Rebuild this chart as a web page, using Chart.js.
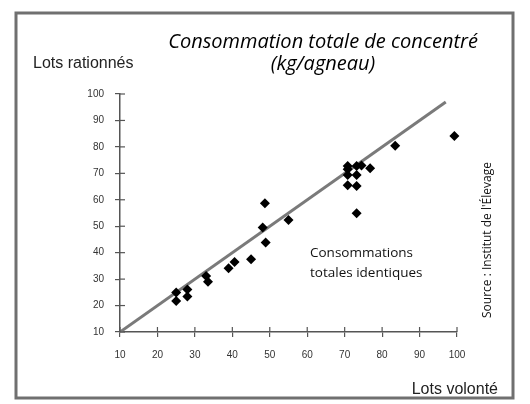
<!DOCTYPE html>
<html>
<head>
<meta charset="utf-8">
<script src="https://cdn.jsdelivr.net/npm/chart.js@4/dist/chart.umd.min.js"></script>
<style>
  body { margin: 0; background: #fff; }
  #wrap { width: 530px; height: 404px; position: relative; }
</style>
</head>
<body>
<div id="wrap"><canvas id="myChart" width="530" height="404"></canvas></div>
<script>
// values
var lotsVolonte = [25, 25, 28, 28, 33, 33.5, 39, 40.6, 45, 48.1, 48.7, 48.9, 55,
  70.8, 70.8, 70.8, 70.8, 73.2, 73.2, 73.2, 73.2, 74.5, 76.8, 83.5, 99.3];
var lotsRationnes = [24.9, 21.7, 26.1, 23.4, 31.2, 29, 34.1, 36.5, 37.5, 49.5, 58.7, 43.8, 52.4,
  72.8, 71.5, 69.4, 65.5, 72.8, 69.4, 65.2, 54.9, 73, 71.9, 80.4, 84.1];
var identiqueX = [10, 97];
var identiqueY = [10, 97];
var tickValues = [10, 20, 30, 40, 50, 60, 70, 80, 90, 100];

var points = [];
for (var i = 0; i < lotsVolonte.length; i++) {
  points.push({x: lotsVolonte[i], y: lotsRationnes[i]});
}
var diag = [];
for (var j = 0; j < identiqueX.length; j++) {
  diag.push({x: identiqueX[j], y: identiqueY[j]});
}

// frame, texts and the inner half of the crossing ticks
var decor = {
  id: 'decor',
  afterDraw: function(chart) {
    var ctx = chart.ctx;
    var xs = chart.scales.x, ys = chart.scales.y;
    ctx.save();
    ctx.strokeStyle = '#555';
    ctx.lineWidth = 1.2;
    tickValues.forEach(function(v) {
      var px = xs.getPixelForValue(v);
      ctx.beginPath(); ctx.moveTo(px, ys.bottom); ctx.lineTo(px, ys.bottom - 5); ctx.stroke();
      var py = ys.getPixelForValue(v);
      ctx.beginPath(); ctx.moveTo(xs.left, py); ctx.lineTo(xs.left + 5, py); ctx.stroke();
    });

    ctx.strokeStyle = '#707070';
    ctx.lineWidth = 3;
    ctx.strokeRect(16, 13, 497, 385);

    ctx.fillStyle = '#000';
    ctx.textAlign = 'center';
    ctx.textBaseline = 'middle';
    ctx.font = 'italic 20px "Open Sans"';
    ctx.fillText('Consommation totale de concentré', 323, 42);
    ctx.fillText('(kg/agneau)', 323, 64);

    ctx.fillStyle = '#222';
    ctx.font = '16px "Liberation Sans"';
    ctx.textAlign = 'left';
    ctx.fillText('Lots rationnés', 33, 64);
    ctx.textAlign = 'right';
    ctx.fillText('Lots volonté', 498, 390);

    ctx.fillStyle = '#111';
    ctx.textAlign = 'left';
    ctx.font = '13.5px "Open Sans"';
    ctx.fillText('Consommations', 310, 253);
    ctx.fillText('totales identiques', 310, 273);

    ctx.translate(488, 240);
    ctx.rotate(-Math.PI / 2);
    ctx.textAlign = 'center';
    ctx.font = '12px "Open Sans"';
    ctx.fillText("Source : Institut de l'Élevage", 0, 0);
    ctx.restore();
  }
};

var myChart = document.getElementById("myChart");
const config = {
  type: 'scatter',
  data: {
    datasets: [
      {
        label: 'Consommations totales identiques',
        type: 'line',
        data: diag,
        borderColor: '#7a7a7a',
        borderWidth: 3,
        pointRadius: 0,
        order: 2
      },
      {
        label: 'Lots',
        data: points,
        pointStyle: 'rectRot',
        pointRadius: 5,
        backgroundColor: '#000',
        borderColor: '#000',
        borderWidth: 0,
        clip: false,
        order: 1
      }
    ]
  },
  options: {
    responsive: false,
    animation: false,
    layout: { padding: { left: 20, right: 73, top: 94, bottom: 42 } },
    plugins: { legend: { display: false }, tooltip: { enabled: false } },
    scales: {
      x: {
        type: 'linear', min: 10, max: 100,
        afterFit: function(s) { s.height = 30; },
        border: { color: '#555', width: 1.5 },
        grid: { drawOnChartArea: false, drawTicks: true, tickLength: 5, color: '#555', lineWidth: 1.2 },
        ticks: { stepSize: 10, padding: 12, color: '#333', font: { family: 'Liberation Sans', size: 10 } }
      },
      y: {
        type: 'linear', min: 10, max: 100,
        afterFit: function(s) { s.width = 100; },
        border: { color: '#555', width: 1.5 },
        grid: { drawOnChartArea: false, drawTicks: true, tickLength: 5, color: '#555', lineWidth: 1.2 },
        ticks: { stepSize: 10, padding: 11, color: '#333', font: { family: 'Liberation Sans', size: 10 } }
      }
    }
  },
  plugins: [decor]
};
var chchc = new Chart(myChart, config);
</script>
</body>
</html>
